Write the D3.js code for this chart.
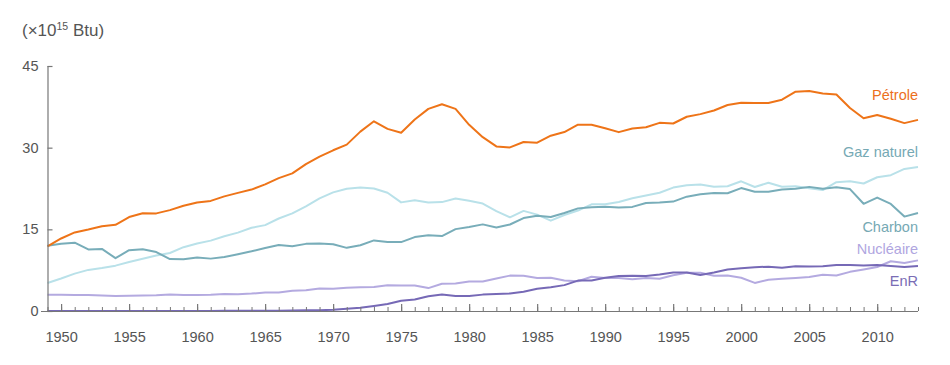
<!DOCTYPE html>
<html>
<head>
<meta charset="utf-8">
<script src="https://cdn.jsdelivr.net/npm/d3@7"></script>
<style>
  body { margin: 0; background: #fff; }
  svg { font-family: "Liberation Sans", Arial, sans-serif; }
</style>
</head>
<body>
<svg id="chart" width="950" height="365"></svg>
<script>
const years = d3.range(1949, 2014);
const yTicks = [0, 15, 30, 45];
const xTicks = [1950, 1955, 1960, 1965, 1970, 1975, 1980, 1985, 1990, 1995, 2000, 2005, 2010];

const petrole = [11.88,13.32,14.43,14.96,15.56,15.84,17.25,17.94,17.93,18.53,19.32,19.92,20.22,21.05,21.70,22.30,23.25,24.40,25.28,26.98,28.34,29.52,30.56,32.95,34.84,33.45,32.73,35.17,37.12,37.97,37.12,34.20,31.93,30.23,30.05,31.05,30.92,32.20,32.87,34.22,34.21,33.55,32.85,33.53,33.74,34.56,34.44,35.68,36.16,36.82,37.84,38.26,38.19,38.22,38.81,40.29,40.39,39.96,39.77,37.28,35.40,36.01,35.31,34.51,35.10];
const gaz = [5.15,5.97,6.87,7.55,7.91,8.33,9.00,9.61,10.19,10.66,11.72,12.39,12.93,13.73,14.40,15.29,15.77,16.99,17.94,19.21,20.68,21.79,22.47,22.70,22.51,21.73,19.95,20.35,19.93,20.00,20.67,20.23,19.74,18.36,17.20,18.39,17.70,16.59,17.64,18.45,19.60,19.60,20.03,20.71,21.23,21.73,22.67,23.09,23.22,22.83,22.91,23.82,22.77,23.56,22.83,22.91,22.56,22.22,23.66,23.84,23.42,24.57,24.95,26.09,26.45];
const charbon = [11.98,12.35,12.55,11.31,11.41,9.70,11.17,11.35,10.82,9.53,9.52,9.84,9.62,9.91,10.41,10.96,11.58,12.14,11.91,12.33,12.38,12.27,11.60,12.08,12.97,12.66,12.66,13.58,13.92,13.77,15.04,15.42,15.91,15.32,15.89,17.07,17.48,17.26,18.01,18.85,19.07,19.17,18.99,19.12,19.84,19.91,20.09,21.00,21.45,21.66,21.62,22.58,21.91,21.90,22.32,22.47,22.80,22.45,22.75,22.39,19.69,20.83,19.66,17.34,18.00];
const renouv = [2.97,2.98,2.94,2.94,2.83,2.75,2.78,2.85,2.88,3.02,2.95,2.93,2.97,3.12,3.08,3.20,3.40,3.41,3.71,3.80,4.15,4.07,4.26,4.38,4.41,4.74,4.69,4.70,4.21,5.01,5.05,5.43,5.41,5.98,6.50,6.46,6.08,6.11,5.62,5.46,6.29,6.04,6.07,5.82,6.08,5.91,6.56,7.01,7.02,6.49,6.52,6.10,5.16,5.73,5.94,6.07,6.23,6.64,6.52,7.19,7.62,8.09,9.14,8.80,9.30];
const nucleaire = [0,0,0,0,0,0,0,0,0.002,0.002,0.002,0.006,0.02,0.026,0.038,0.04,0.043,0.064,0.088,0.142,0.154,0.239,0.413,0.584,0.910,1.272,1.900,2.111,2.702,3.024,2.776,2.739,3.008,3.131,3.203,3.553,4.076,4.380,4.754,5.587,5.602,6.104,6.422,6.479,6.410,6.694,7.075,7.087,6.597,7.068,7.610,7.862,8.029,8.145,7.959,8.222,8.161,8.215,8.455,8.427,8.356,8.434,8.269,8.062,8.27];

const seriesNames = ["Gaz naturel", "Charbon", "Pétrole", "Nucléaire", "EnR"];
const seriesValues = [gaz, charbon, petrole, renouv, nucleaire];
const lineColors = ["#b9e1e9", "#78adb9", "#ee7418", "#b4aae0", "#7669b6"];

const labels = ["Pétrole", "Gaz naturel", "Charbon", "Nucléaire", "EnR"];
const labelColors = ["#ec6f1c", "#76a9b4", "#76a9b4", "#b0a6df", "#7a6db5"];
const labelYs = [95, 152, 227, 249, 281];

const svg = d3.select("#chart");
const x = d3.scaleLinear().domain([1949, 2013]).range([47.5, 918]);
const y = d3.scaleLinear().domain([0, 45]).range([311, 66]);

// title
const t = svg.append("text").attr("x", 22).attr("y", 36)
  .attr("fill", "#555").attr("font-size", 17);
t.append("tspan").text("(×10");
t.append("tspan").text("15").attr("font-size", 10.5).attr("dy", -6);
t.append("tspan").text(" Btu)").attr("dy", 6);

// lines
const line = d3.line().x((d, i) => x(years[i])).y(d => y(d));
seriesValues.forEach((vals, k) => {
  svg.append("path").datum(vals)
    .attr("d", line)
    .attr("fill", "none")
    .attr("stroke", lineColors[k])
    .attr("stroke-width", 2)
    .attr("stroke-linejoin", "round");
});

// y axis
const yAxis = svg.append("g").attr("transform", "translate(47.5,0)")
  .call(d3.axisRight(y).tickValues(yTicks).tickSize(5).tickFormat(d3.format("d")));
yAxis.select(".domain").attr("stroke", "#777").attr("stroke-width", 1.2).attr("d", `M0.5,${y(45)}V${y(0)}`);
yAxis.selectAll(".tick line").attr("stroke", "#777").attr("stroke-width", 1.2);
yAxis.selectAll(".tick text").attr("x", -9).attr("text-anchor", "end")
  .attr("fill", "#555").attr("font-size", 14.5).attr("font-family", "Liberation Sans, Arial, sans-serif");

// x axis minor ticks
const xAxisMinor = svg.append("g").attr("transform", `translate(0,${y(0)})`)
  .call(d3.axisTop(x).tickValues(years).tickSize(4).tickFormat(""));
xAxisMinor.select(".domain").remove();
xAxisMinor.selectAll(".tick line").attr("stroke", "#777").attr("stroke-width", 1);

const xAxis = svg.append("g").attr("transform", `translate(0,${y(0)})`)
  .call(d3.axisTop(x).tickValues(xTicks).tickSize(7).tickFormat(d3.format("d")));
xAxis.select(".domain").attr("stroke", "#777").attr("stroke-width", 1.2).attr("d", `M41,0.5H918`);
xAxis.selectAll(".tick line").attr("stroke", "#777").attr("stroke-width", 1.2);
xAxis.selectAll(".tick text").attr("y", 21).attr("dy", "0.71em")
  .attr("fill", "#555").attr("font-size", 14.5).attr("font-family", "Liberation Sans, Arial, sans-serif");

// labels
labels.forEach((lab, i) => {
  svg.append("text").attr("x", 918).attr("y", labelYs[i]).attr("dy", "0.35em")
    .attr("text-anchor", "end").attr("fill", labelColors[i]).attr("font-size", 14.5)
    .text(lab);
});
</script>
</body>
</html>
